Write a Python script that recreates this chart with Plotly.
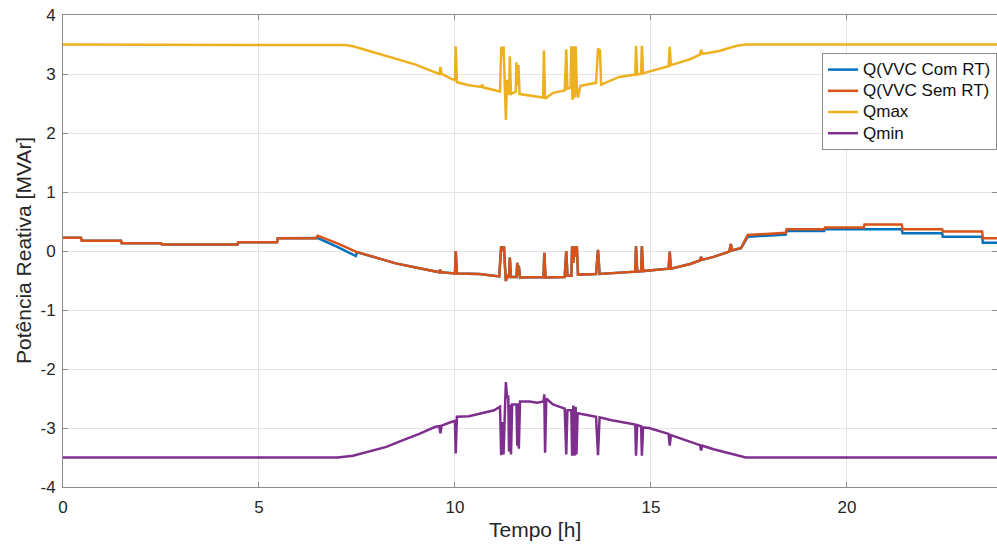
import plotly.graph_objects as go

# ---- data (hours, MVAr) ----
t_early = [0, 0.46, 0.48, 1.48, 1.50, 2.5, 2.52, 4.45, 4.47, 5.46, 5.48, 6.45]
q_early = [0.225, 0.225, 0.175, 0.175, 0.13, 0.13, 0.11, 0.11, 0.15, 0.15, 0.215, 0.215]

t_com_ramp = [6.5, 7.0, 7.47, 7.5]
q_com_ramp = [0.22, 0.07, -0.085, -0.02]
t_sem_ramp = [6.5, 7.0, 7.47]
q_sem_ramp = [0.26, 0.13, -0.01]

t_mid = [8.0, 8.49, 9.0, 9.34, 9.6, 9.62, 9.65, 10.0, 10.02, 10.05, 10.62, 11.13,
         11.18, 11.22, 11.25, 11.28, 11.30, 11.33, 11.38, 11.40, 11.43, 11.57, 11.59,
         11.61, 11.63, 11.66, 11.9, 12.26, 12.28, 12.31, 12.8, 12.84, 12.87, 12.97,
         12.99, 13.02, 13.05, 13.08, 13.11, 13.14, 13.6, 13.65, 13.69, 14.45, 14.6,
         14.62, 14.65, 14.75, 14.77, 14.80, 15.45, 15.48, 15.51, 16.0, 16.25, 16.28,
         16.31, 16.6, 17.0, 17.04, 17.07, 17.3]
q_mid = [-0.12, -0.21, -0.28, -0.33, -0.36, -0.32, -0.36, -0.38, 0.0, -0.38, -0.39, -0.43,
         0.08, 0.0, 0.08, -0.3, -0.51, -0.42, -0.45, -0.11, -0.44, -0.44, -0.2,
         -0.4, -0.25, -0.45, -0.45, -0.44, -0.03, -0.45, -0.44, 0.0, -0.42, -0.42,
         0.08, -0.2, 0.08, -0.1, 0.08, -0.4, -0.39, 0.02, -0.39, -0.36, -0.35,
         0.08, -0.35, -0.34, 0.08, -0.34, -0.3, -0.01, -0.3, -0.22, -0.16, -0.1,
         -0.15, -0.1, -0.01, 0.12, 0.01, 0.05]

t_com_late = [17.47, 18.44, 18.46, 19.42, 19.44, 21.4, 21.42, 22.43, 22.45, 23.45, 23.47, 24]
q_com_late = [0.24, 0.28, 0.34, 0.34, 0.37, 0.37, 0.30, 0.30, 0.24, 0.24, 0.14, 0.14]
t_sem_late = [17.47, 18.44, 18.46, 19.42, 19.44, 20.43, 20.45, 21.4, 21.42, 22.43, 22.45, 23.45, 23.47, 24]
q_sem_late = [0.27, 0.31, 0.37, 0.37, 0.40, 0.40, 0.45, 0.45, 0.37, 0.37, 0.33, 0.33, 0.215, 0.215]

t_qmax = [0, 7.0, 7.2, 7.4, 7.6, 7.8, 8.0, 8.25, 8.5, 8.75, 9.0, 9.25, 9.5, 9.6, 9.63, 9.66,
          9.94, 10.0, 10.02, 10.05, 10.36, 10.67, 10.7, 10.73, 11.0, 11.15, 11.18, 11.21,
          11.24, 11.27, 11.30, 11.33, 11.38, 11.40, 11.43, 11.55, 11.57, 11.60, 11.62,
          11.65, 11.9, 12.1, 12.25, 12.27, 12.30, 12.5, 12.8, 12.84, 12.87, 12.95, 12.97,
          13.0, 13.03, 13.06, 13.08, 13.11, 13.14, 13.2, 13.6, 13.65, 13.70, 13.73, 14.0,
          14.19, 14.6, 14.62, 14.65, 14.75, 14.77, 14.80, 14.95, 15.2, 15.45, 15.48, 15.51,
          15.8, 16.0, 16.25, 16.28, 16.32, 16.74, 17.04, 17.2, 17.42, 24]
v_qmax = [3.5, 3.5, 3.49, 3.47, 3.43, 3.39, 3.35, 3.31, 3.26, 3.21, 3.16, 3.09, 3.02, 3.0, 3.12, 3.0,
          2.91, 2.9, 3.47, 2.86, 2.81, 2.78, 2.82, 2.77, 2.73, 2.70, 3.46, 3.3,
          3.47, 2.6, 2.22, 2.9, 2.65, 3.3, 2.66, 2.7, 3.2, 2.8, 3.15,
          2.66, 2.64, 2.62, 2.6, 3.4, 2.58, 2.68, 2.72, 3.42, 2.75, 2.77, 3.47,
          2.56, 3.47, 2.6, 3.47, 2.75, 2.6, 2.8, 2.85, 3.43, 3.4, 2.82, 2.9,
          2.95, 2.99, 3.48, 2.99, 3.0, 3.48, 3.01, 3.04, 3.09, 3.13, 3.46, 3.15,
          3.21, 3.25, 3.33, 3.41, 3.34, 3.39, 3.45, 3.48, 3.5, 3.5]

t_qmin = [0, 7.0, 7.4, 7.8, 8.25, 8.66, 9.09, 9.5, 9.6, 9.63, 9.66, 9.94, 10.0, 10.02, 10.05,
          10.36, 10.7, 11.0, 11.15, 11.18, 11.21, 11.24, 11.28, 11.30, 11.33, 11.36, 11.38,
          11.41, 11.43, 11.46, 11.57, 11.59, 11.61, 11.63, 11.66, 11.9, 12.1, 12.26, 12.28,
          12.30, 12.33, 12.5, 12.8, 12.84, 12.87, 12.97, 12.99, 13.02, 13.05, 13.08,
          13.10, 13.13, 13.2, 13.6, 13.65, 13.69, 14.0, 14.45, 14.6, 14.62, 14.65,
          14.75, 14.77, 14.80, 14.95, 15.45, 15.48, 15.51, 16.0, 16.25, 16.28, 16.31,
          16.6, 17.0, 17.2, 17.42, 24]
v_qmin = [-3.5, -3.5, -3.47, -3.40, -3.32, -3.21, -3.10, -2.98, -2.97, -3.09, -2.96, -2.89, -2.88, -3.43, -2.81,
          -2.80, -2.75, -2.7, -2.64, -3.46, -2.9, -3.45, -2.6, -2.22, -2.5, -2.45, -3.4,
          -2.6, -3.45, -2.6, -2.6, -3.3, -2.58, -3.35, -2.55, -2.55, -2.57, -2.55, -2.43,
          -3.42, -2.5, -2.6, -2.67, -3.45, -2.7, -2.7, -3.47, -2.62, -3.47, -2.64,
          -3.45, -2.75, -2.76, -2.81, -3.46, -2.82, -2.87, -2.92, -2.94, -3.47, -2.95,
          -2.97, -3.47, -2.99, -3.0, -3.1, -3.3, -3.12, -3.23, -3.29, -3.38, -3.3,
          -3.36, -3.43, -3.47, -3.5, -3.5]

x_ticks = [0, 5, 10, 15, 20]
x_labels = ["0", "5", "10", "15", "20"]
y_ticks = [-4, -3, -2, -1, 0, 1, 2, 3, 4]
y_labels = ["-4", "-3", "-2", "-1", "0", "1", "2", "3", "4"]

t_com = t_early + t_com_ramp + t_mid + t_com_late
q_com = q_early + q_com_ramp + q_mid + q_com_late
t_sem = t_early + t_sem_ramp + t_mid + t_sem_late
q_sem = q_early + q_sem_ramp + q_mid + q_sem_late

colors = ["#0072BD", "#D95319", "#EDB120", "#7E2F8E"]
names = ["Q(VVC Com RT)", "Q(VVC Sem RT)", "Qmax", "Qmin"]
series = [(t_com, q_com), (t_sem, q_sem), (t_qmax, v_qmax), (t_qmin, v_qmin)]

fig = go.Figure()
for (tx, vy), c, n in zip(series, colors, names):
    fig.add_trace(go.Scatter(x=tx, y=vy, mode="lines",
                             name='<span style="font-size:17px">' + n + '</span>',
                             line=dict(color=c, width=2.5)))

font_fam = "Liberation Sans, Arial, sans-serif"
txt_col = "#262626"
axis_common = dict(showline=True, linecolor="#8c8c8c", linewidth=1, mirror="ticks",
                   ticks="inside", ticklen=5, tickcolor="#8c8c8c",
                   showgrid=True, gridcolor="#e3e3e3", gridwidth=1, zeroline=False,
                   automargin=False,
                   tickfont=dict(family=font_fam, size=17, color=txt_col))

fig.update_layout(
    width=997, height=547,
    margin=dict(l=63, r=0, t=15, b=60),
    paper_bgcolor="white", plot_bgcolor="white",
    font=dict(family=font_fam, color=txt_col),
    xaxis=dict(range=[0, 23.83], tickvals=x_ticks, ticktext=x_labels,
               ticklabelstandoff=5, **axis_common),
    yaxis=dict(range=[-4, 4], tickvals=y_ticks, ticktext=y_labels,
               ticklabelstandoff=3, **axis_common),
    legend=dict(x=(822 - 63) / 934, y=(487 - 53) / 472, xanchor="left", yanchor="top",
                bgcolor="white", bordercolor="#8c8c8c", borderwidth=1,
                font=dict(family=font_fam, size=14, color="#111111"),
                tracegroupgap=0, itemwidth=30),
    showlegend=True,
    annotations=[
        dict(text="Tempo [h]", xref="paper", yref="paper",
             x=(535 - 63) / 934, y=(487 - 529) / 472, xanchor="center", yanchor="middle",
             showarrow=False, font=dict(family=font_fam, size=21, color=txt_col)),
        dict(text="Potência Reativa [MVAr]", xref="paper", yref="paper",
             x=(23 - 63) / 934, y=0.5, xanchor="center", yanchor="middle", textangle=-90,
             showarrow=False, font=dict(family=font_fam, size=21, color=txt_col)),
    ],
)

fig.write_html("out.html", config={"displayModeBar": False},
               post_script="document.body.style.margin='0px';document.body.style.overflow='hidden';")
